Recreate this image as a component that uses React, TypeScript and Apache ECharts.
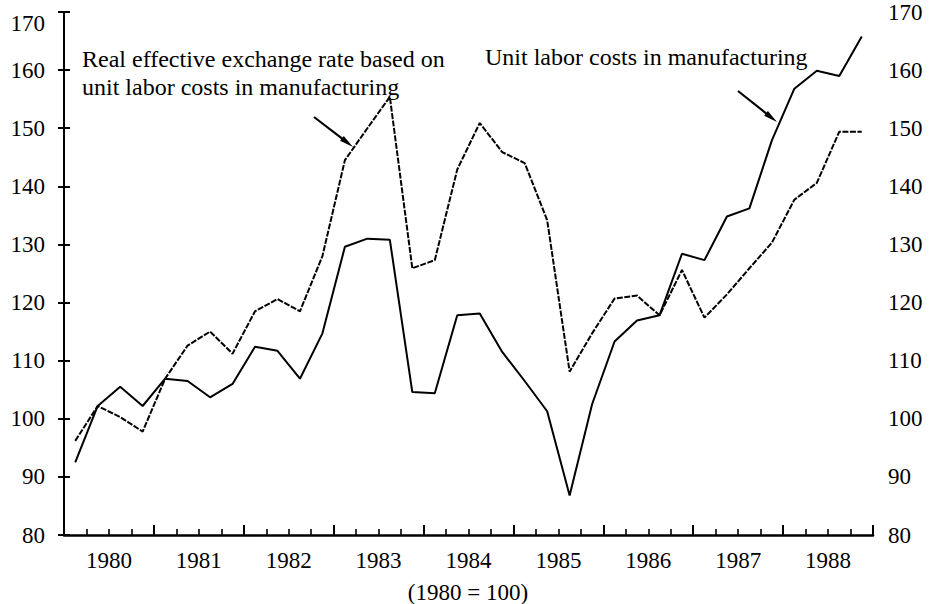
import React, { useEffect, useRef } from 'react';
import * as echarts from 'echarts';

// Quarterly data, 1980Q1 .. 1988Q4 (1980 = 100)
const yearLabels = ['1980', '1981', '1982', '1983', '1984', '1985', '1986', '1987', '1988'];

const unitLaborCosts = [
  92.5, 102.2, 105.5, 102.2,
  106.9, 106.5, 103.7, 106.0,
  112.4, 111.7, 106.9, 114.7,
  129.6, 131.0, 130.8, 104.6,
  104.4, 117.8, 118.1, 111.5,
  106.5, 101.3, 86.8, 102.5,
  113.3, 116.9, 117.8, 128.4,
  127.3, 134.8, 136.2, 147.9,
  156.8, 159.9, 159.0, 165.8,
];

const realEffectiveRate = [
  96.2, 102.2, 100.3, 97.8,
  106.9, 112.6, 115.0, 111.2,
  118.5, 120.6, 118.5, 128.0,
  144.5, 150.0, 155.4, 125.9,
  127.3, 142.9, 150.9, 145.9,
  144.0, 134.2, 108.1, 114.7,
  120.7, 121.2, 117.8, 125.6,
  117.4, 121.4, 125.9, 130.3,
  137.7, 140.6, 149.4, 149.4,
];

const reerLabelLines = ['Real effective exchange rate based on', 'unit labor costs in manufacturing'];
const ulcLabel = 'Unit labor costs in manufacturing';
const baseNote = '(1980 = 100)';

const FONT = '"Liberation Serif", "Times New Roman", serif';

function arrow(x1: number, y1: number, x2: number, y2: number) {
  const dx = x2 - x1;
  const dy = y2 - y1;
  const l = Math.sqrt(dx * dx + dy * dy);
  const ux = dx / l;
  const uy = dy / l;
  const px = -uy;
  const py = ux;
  const len = 14;
  const half = 3;
  const bx = x2 - ux * len;
  const by = y2 - uy * len;
  return [
    {
      type: 'line',
      shape: { x1, y1, x2: bx + ux * 2, y2: by + uy * 2 },
      style: { stroke: '#000', lineWidth: 2.2 },
      silent: true,
    },
    {
      type: 'polygon',
      shape: {
        points: [
          [x2, y2],
          [bx + px * half, by + py * half],
          [bx - px * half, by - py * half],
        ],
      },
      style: { fill: '#000' },
      silent: true,
    },
  ];
}

export default function App() {
  const ref = useRef<HTMLDivElement>(null);

  useEffect(() => {
    const chart = echarts.init(ref.current!, null, { renderer: 'svg' });
    const toPoints = (arr: number[]) => arr.map((v, i) => [i + 0.5, v]);
    const nQ = yearLabels.length * 4;

    const yAxisBase = {
      type: 'value',
      min: 80,
      max: 170,
      interval: 10,
      splitLine: { show: false },
      axisLine: { show: true, lineStyle: { color: '#000', width: 2 } },
      axisTick: { show: true, inside: true, length: 6, lineStyle: { color: '#000', width: 2 } },
      axisLabel: { color: '#000', fontFamily: FONT, fontSize: 23 },
    };

    const option: any = {
      animation: false,
      backgroundColor: '#fff',
      grid: { left: 64, right: 64, top: 12, bottom: 69, containLabel: false },
      xAxis: [
        {
          type: 'value',
          min: 0,
          max: nQ,
          interval: 1,
          position: 'bottom',
          splitLine: { show: false },
          axisLine: { show: true, onZero: false, lineStyle: { color: '#000', width: 2.5 } },
          axisTick: { show: true, inside: true, length: 6, lineStyle: { color: '#000', width: 1.6 } },
          axisLabel: { show: false },
        },
        {
          type: 'value',
          min: 0,
          max: nQ,
          interval: 4,
          position: 'bottom',
          splitLine: { show: false },
          axisLine: { show: false, onZero: false },
          axisTick: { show: true, inside: true, length: 10, lineStyle: { color: '#000', width: 2 } },
          axisLabel: { show: false },
        },
        {
          type: 'value',
          min: 0,
          max: nQ,
          interval: 2,
          position: 'bottom',
          splitLine: { show: false },
          axisLine: { show: false, onZero: false },
          axisTick: { show: false },
          axisLabel: {
            show: true,
            margin: 14,
            color: '#000',
            fontFamily: FONT,
            fontSize: 23,
            showMinLabel: true,
            showMaxLabel: true,
            formatter: (v: number) => (v % 4 === 2 ? yearLabels[(v - 2) / 4] : ''),
          },
        },
      ],
      yAxis: [
        {
          ...yAxisBase,
          position: 'left',
          axisLabel: {
            ...yAxisBase.axisLabel,
            margin: 19,
            formatter: (v: number) => (v === 170 ? '{top|' + v + '}' : String(v)),
            rich: {
              top: { fontFamily: FONT, fontSize: 23, color: '#000', padding: [22, 0, 0, 0] },
            },
          },
        },
        { ...yAxisBase, position: 'right', axisLabel: { ...yAxisBase.axisLabel, margin: 15 } },
      ],
      series: [
        {
          name: ulcLabel,
          type: 'line',
          xAxisIndex: 0,
          yAxisIndex: 0,
          data: toPoints(unitLaborCosts),
          showSymbol: false,
          symbol: 'none',
          lineStyle: { color: '#000', width: 2 },
        },
        {
          name: reerLabelLines.join(' '),
          type: 'line',
          xAxisIndex: 0,
          yAxisIndex: 0,
          data: toPoints(realEffectiveRate),
          showSymbol: false,
          symbol: 'none',
          lineStyle: { color: '#000', width: 2, type: [6, 1.5] },
        },
      ],
      graphic: [
        {
          type: 'text',
          left: 82,
          top: 45,
          style: {
            text: reerLabelLines.join('\n'),
            font: `24px ${FONT}`,
            fill: '#000',
            lineHeight: 28,
          },
        },
        {
          type: 'text',
          left: 485,
          top: 45,
          style: { text: ulcLabel, font: `24px ${FONT}`, fill: '#000' },
        },
        {
          type: 'text',
          x: 468,
          y: 592,
          style: {
            text: baseNote,
            font: `23px ${FONT}`,
            fill: '#000',
            align: 'center',
            verticalAlign: 'middle',
          },
        },
        ...arrow(314, 117, 353, 147),
        ...arrow(738, 91, 777, 122),
      ],
    };

    chart.setOption(option);
    return () => chart.dispose();
  }, []);

  return (
    <div
      ref={ref}
      style={{ position: 'absolute', left: 0, top: 0, width: 937, height: 604 }}
    />
  );
}
